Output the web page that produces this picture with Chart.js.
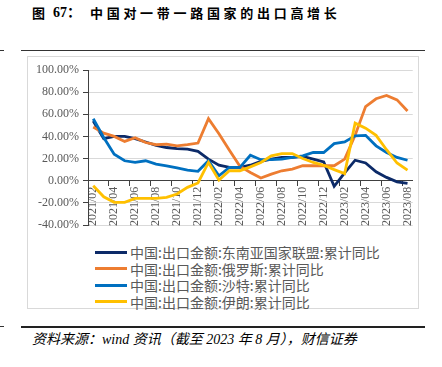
<!DOCTYPE html>
<html>
<head>
<meta charset="utf-8">
<script src="https://cdn.jsdelivr.net/npm/chart.js@4.4.0/dist/chart.umd.min.js"></script>
<style>
  body { margin: 0; width: 442px; height: 367px; background: #fff; position: relative; overflow: hidden; font-family: "Noto Sans CJK SC", sans-serif; }
  .abs { position: absolute; white-space: nowrap; }
  .title { top: 5px; font-size: 13px; line-height: 15px; font-weight: bold; color: #000; }
  .rule { position: absolute; background: #333; }
  .box { position: absolute; left: 27px; top: 56px; width: 390px; height: 251px; border: 1px solid #d9d9d9; }
  #chartWrap { position: absolute; left: 27px; top: 56px; }
  .legend { position: absolute; left: 95px; top: 244px; }
  .legend .row { display: flex; align-items: center; height: 16.5px; font-size: 14px; color: #595959; }
  .legend .swatch { width: 32px; height: 3px; margin-right: 3px; }
  .footer { top: 332px; left: 32px; font-size: 14px; line-height: 16px; font-style: italic; font-family: "Liberation Serif", "Noto Sans CJK SC", serif; color: #000; }
</style>
</head>
<body>
<div class="abs title" style="left:32px">图</div>
<div class="abs title" style="left:53px; font-family:'Liberation Serif','Noto Sans CJK SC',serif; font-size:14px">67：</div>
<div class="abs title" style="left:90px; letter-spacing:3.7px">中国对一带一路国家的出口高增长</div>

<div class="rule" style="left:0; top:50px; width:4px; height:1px"></div>
<div class="rule" style="left:21px; top:50px; width:404px; height:1px"></div>

<div class="box"></div>
<div id="chartWrap"><canvas id="chart" width="396" height="185"></canvas></div>
<div class="legend" id="legend"></div>

<div class="rule" style="left:0; top:326px; width:4px; height:1px"></div>
<div class="rule" style="left:21px; top:326px; width:404px; height:2px; background:#222"></div>
<div class="abs footer">资料来源：wind 资讯（截至 2023 年 8 月），财信证券</div>

<script>
const months = [
    '2021/02', '2021/03', '2021/04', '2021/05', '2021/06', '2021/07', '2021/08', '2021/09', '2021/10', '2021/11', '2021/12',
    '2022/01', '2022/02', '2022/03', '2022/04', '2022/05', '2022/06', '2022/07', '2022/08', '2022/09', '2022/10', '2022/11', '2022/12',
    '2023/01', '2023/02', '2023/03', '2023/04', '2023/05', '2023/06', '2023/07', '2023/08'
];

// 累计同比, %
const asean = [54, 38, 40, 40, 38, 35, 32, 30, 29, 28.5, 26.5, 19.5, 14, 12, 12, 14, 17.5, 19.5, 21, 21, 22, 19.5, 17, -5, 7, 18.5, 16, 8, 3, -1, -2.5];
const russia = [48.5, 43, 40, 35.5, 38.8, 34.5, 32.5, 33, 31.5, 32.5, 34, 56, 42.5, 27.5, 13, 7.5, 2.5, 6, 9, 10.5, 13.5, 13.5, 13.5, 13.5, 19.5, 41, 67, 74, 77, 73, 63];
const saudi = [56, 39, 24, 18, 16.5, 18, 15, 13.5, 11.5, 9.5, 8.5, 18, 4.5, 12, 12, 23, 19, 19, 19.5, 21, 22.5, 25.5, 25.5, 33.5, 35, 40.5, 41, 31.5, 25.5, 21, 18.5];
const iran = [-4.5, -14.5, -19.5, -19.5, -16, -16, -16, -15, -12, -6, -2, 16.5, 0.5, 9, 9, 12.5, 16.5, 22.5, 24.5, 24.5, 20, 16.5, 14, 10, 6.5, 52, 47.5, 41, 28, 16, 9.5];

const seriesNames = [
    '中国:出口金额:东南亚国家联盟:累计同比',
    '中国:出口金额:俄罗斯:累计同比',
    '中国:出口金额:沙特:累计同比',
    '中国:出口金额:伊朗:累计同比'
];
const seriesColors = ['#0c2a68', '#ed7d31', '#0070c0', '#ffc000'];
const yTicks = [-40, -20, 0, 20, 40, 60, 80, 100];

const axisFont = { family: 'Liberation Serif', size: 12 };

const datasets = [asean, russia, saudi, iran].map((values, i) => ({
    label: seriesNames[i],
    data: values,
    borderColor: seriesColors[i],
    backgroundColor: seriesColors[i],
    borderWidth: 2.8,
    pointRadius: 0,
    tension: 0,
    order: 4 - i
}));

new Chart(document.getElementById('chart'), {
    type: 'line',
    data: { labels: months, datasets: datasets },
    options: {
        responsive: false,
        animation: false,
        devicePixelRatio: 1,
        layout: { padding: { left: 0, right: 6, top: 14, bottom: 16 } },
        plugins: { legend: { display: false }, tooltip: { enabled: false } },
        scales: {
            x: {
                type: 'category',
                offset: true,
                position: { y: 0 },
                afterFit: s => { s.height = 0; },
                border: { color: '#404040', width: 1 },
                grid: {
                    offset: true,
                    drawOnChartArea: false,
                    drawTicks: true,
                    tickLength: 5,
                    color: ctx => ctx.index % 2 === 0 ? '#404040' : 'rgba(0,0,0,0)'
                },
                ticks: {
                    autoSkip: false,
                    minRotation: 90,
                    maxRotation: 90,
                    padding: 1,
                    color: '#595959',
                    font: axisFont,
                    callback: (v, i) => i % 2 === 0 ? months[i] : ''
                }
            },
            y: {
                min: yTicks[0],
                max: yTicks[yTicks.length - 1],
                afterFit: s => { s.width = 61; },
                afterBuildTicks: s => { s.ticks = yTicks.map(v => ({ value: v })); },
                border: { color: '#404040', width: 1 },
                grid: { color: '#d9d9d9', tickColor: '#404040', tickLength: 5 },
                ticks: {
                    padding: 4,
                    color: '#595959',
                    font: axisFont,
                    callback: v => v.toFixed(2) + '%'
                }
            }
        }
    }
});

// legend, one entry per row
document.getElementById('legend').innerHTML = seriesNames.map((name, i) =>
    `<div class="row"><span class="swatch" style="background:${seriesColors[i]}"></span>${name}</div>`
).join('');
</script>
</body>
</html>
